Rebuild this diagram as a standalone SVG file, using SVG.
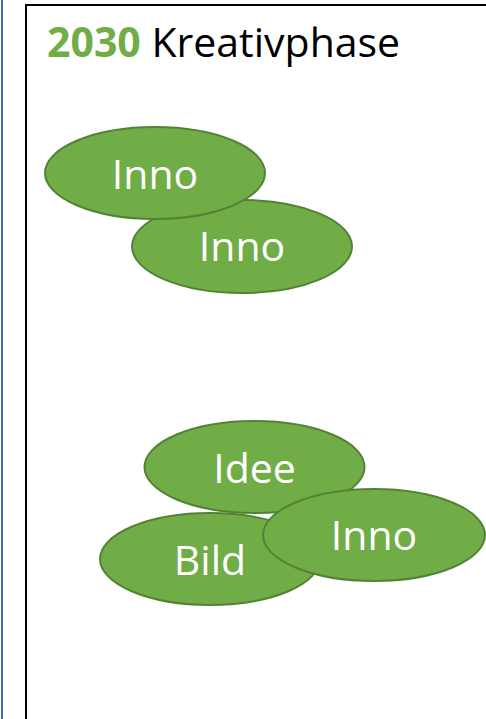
<svg xmlns="http://www.w3.org/2000/svg" width="486" height="719" viewBox="0 0 486 719">
<style>
.bubble ellipse{fill:#70AD47;stroke:#548235;stroke-width:2}
.bubble text{fill:#ffffff;font-family:"Open Sans","Noto Sans",sans-serif;font-size:41px;text-anchor:middle}
.title{font-family:"Open Sans","Noto Sans",sans-serif;font-size:41px;fill:#000000}
</style>
<rect width="486" height="719" fill="#ffffff"/>
<line x1="2" y1="0" x2="2" y2="719" stroke="#4468A8" stroke-width="2"/>
<path d="M26 725 V5 H492" fill="none" stroke="#000000" stroke-width="2"/>
<text class="title" x="47" y="57"><tspan font-weight="bold" fill="#70AD47">2030</tspan> Kreativphase</text>
<g id="connectors"/>
<g id="inno2" class="bubble">
<ellipse cx="242" cy="246.5" rx="110" ry="46.5"/>
<text x="242" y="261">Inno</text>
</g>
<g id="inno1" class="bubble">
<ellipse cx="155" cy="173" rx="110" ry="46"/>
<text x="155" y="189">Inno</text>
</g>
<g id="idee" class="bubble">
<ellipse cx="254.5" cy="467" rx="110" ry="46"/>
<text x="254.5" y="483">Idee</text>
</g>
<g id="bild" class="bubble">
<ellipse cx="210" cy="559" rx="110" ry="46"/>
<text x="210" y="575">Bild</text>
</g>
<g id="inno3" class="bubble">
<ellipse cx="374" cy="535" rx="111" ry="46"/>
<text x="374" y="550">Inno</text>
</g>
</svg>
